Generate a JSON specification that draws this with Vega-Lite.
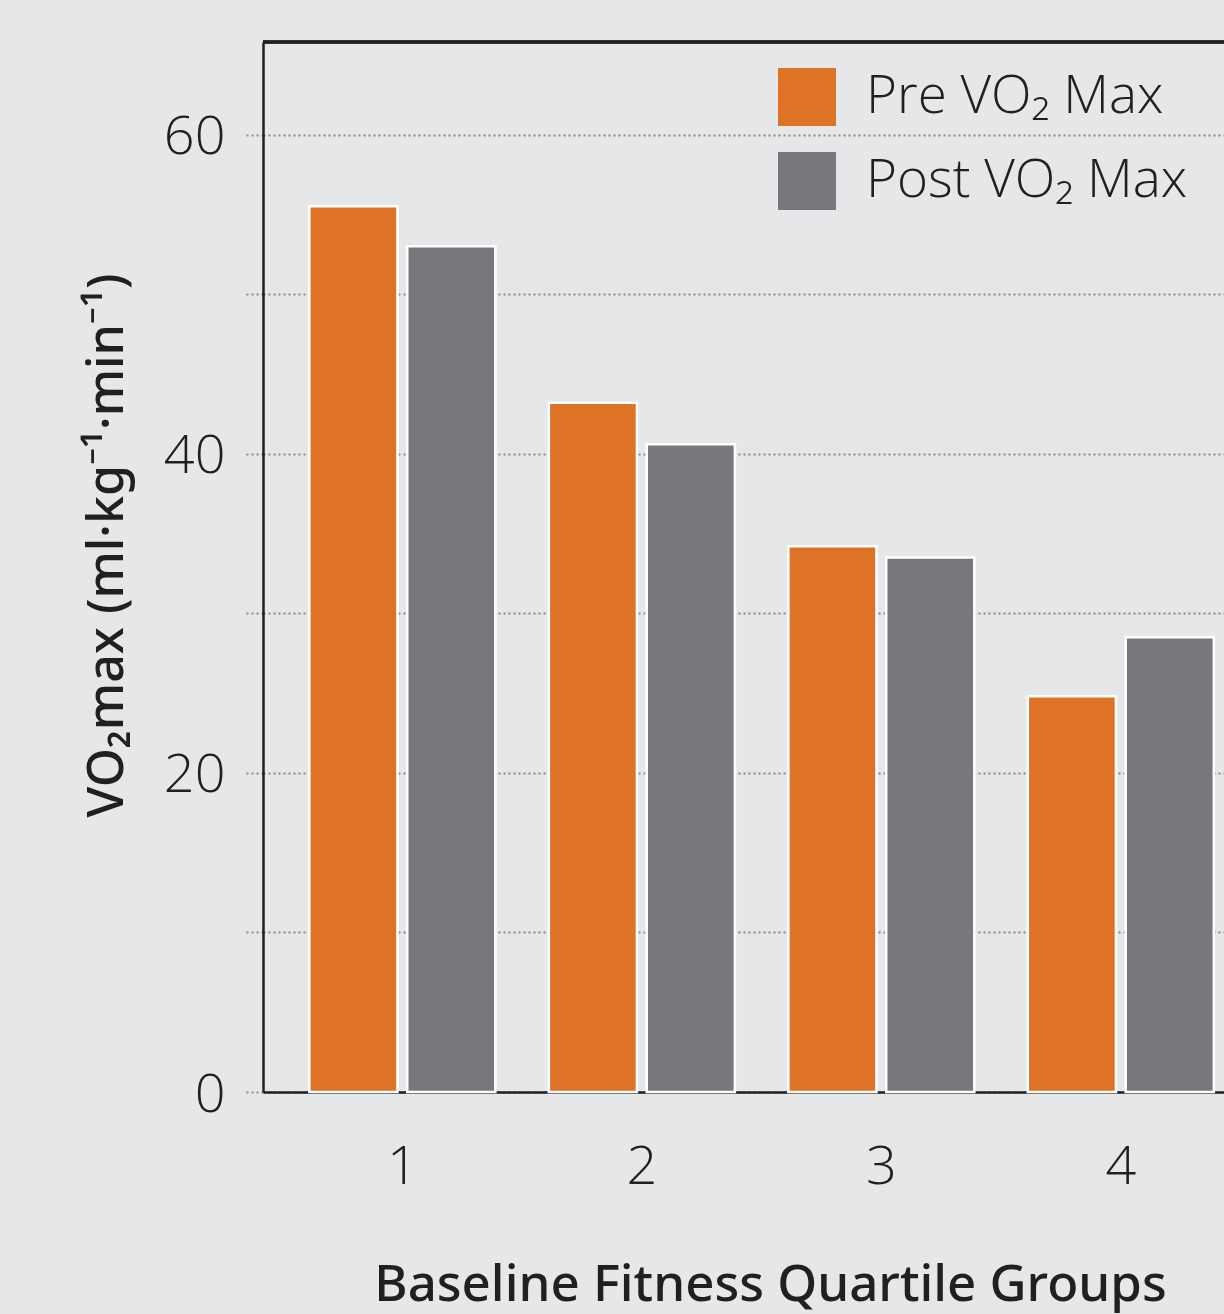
{
  "$schema": "https://vega.github.io/schema/vega-lite/v6.json",
  "width": 961,
  "height": 1050,
  "autosize": "none",
  "padding": {"left": 263, "top": 42, "right": 0, "bottom": 222},
  "background": "#e6e7e9",
  "config": {
    "view": {"stroke": null},
    "font": "Open Sans"
  },
  "data": {
    "values": [
      {"group": "1", "series": "Pre VO₂ Max", "value": 55.5},
      {"group": "1", "series": "Post VO₂ Max", "value": 53.0},
      {"group": "2", "series": "Pre VO₂ Max", "value": 43.2},
      {"group": "2", "series": "Post VO₂ Max", "value": 40.6},
      {"group": "3", "series": "Pre VO₂ Max", "value": 34.2},
      {"group": "3", "series": "Post VO₂ Max", "value": 33.5},
      {"group": "4", "series": "Pre VO₂ Max", "value": 24.8},
      {"group": "4", "series": "Post VO₂ Max", "value": 28.5}
    ]
  },
  "layer": [
    {
      "mark": {"type": "bar", "stroke": "#ffffff", "strokeWidth": 2.5},
      "encoding": {
        "x": {
          "field": "group",
          "type": "nominal",
          "scale": {"paddingInner": 0.2234, "paddingOuter": 0.118, "align": 0.82},
          "axis": {
            "title": "Baseline Fitness Quartile Groups",
            "labelAngle": 0,
            "labelFont": "Open Sans",
            "labelFontWeight": 300,
            "labelFontSize": 54,
            "labelColor": "#231f20",
            "labelBaseline": "alphabetic",
            "labelPadding": 91,
            "ticks": false,
            "tickSize": 0,
            "domainColor": "#231f20",
            "domainWidth": 2.5,
            "titleFont": "Noto Sans",
            "titleFontWeight": 500,
            "titleFontSize": 51,
            "titleColor": "#231f20",
            "titleBaseline": "alphabetic",
            "titleX": 507,
            "titleY": 208
          }
        },
        "xOffset": {
          "field": "series",
          "type": "nominal",
          "sort": ["Pre VO₂ Max", "Post VO₂ Max"],
          "scale": {"paddingInner": 0.1}
        },
        "y": {
          "field": "value",
          "type": "quantitative",
          "scale": {"domain": [0, 65.8], "nice": false},
          "axis": {
            "title": "VO₂max (ml·kg⁻¹·min⁻¹)",
            "values": [0, 10, 20, 30, 40, 50, 60],
            "labelExpr": "datum.value % 20 === 0 ? datum.label : ''",
            "labelFont": "Open Sans",
            "labelFontWeight": 300,
            "labelFontSize": 54,
            "labelColor": "#231f20",
            "labelPadding": 20,
            "labelOffset": 3,
            "tickSize": 18,
            "tickColor": "#8a8b8e",
            "tickWidth": 2,
            "tickDash": [2, 3],
            "grid": true,
            "gridColor": "#85868a",
            "gridWidth": 2,
            "gridDash": [2, 3],
            "domainColor": "#231f20",
            "domainWidth": 2.5,
            "titleFont": "Noto Sans",
            "titleFontWeight": 500,
            "titleFontSize": 50,
            "titleColor": "#231f20",
            "titleAngle": -90,
            "titleBaseline": "alphabetic",
            "titleAlign": "center",
            "titleX": -141,
            "titleY": 503
          }
        },
        "color": {
          "field": "series",
          "type": "nominal",
          "scale": {"domain": ["Pre VO₂ Max", "Post VO₂ Max"], "range": ["#de7226", "#77787b"]},
          "legend": {
            "title": null,
            "orient": "none",
            "legendX": 515,
            "legendY": 26,
            "symbolType": "square",
            "symbolSize": 3364,
            "symbolStrokeWidth": 0,
            "labelFont": "Open Sans",
            "labelFontWeight": 300,
            "labelFontSize": 53,
            "labelColor": "#231f20",
            "labelOffset": 30,
            "rowPadding": 26,
            "labelLimit": 600,
            "encode": {
              "symbols": {
                "update": {
                  "fill": {"signal": "datum.label === 'Pre VO₂ Max' ? '#de7226' : '#4b4c4e'"},
                  "stroke": {"value": "transparent"}
                }
              }
            }
          }
        }
      }
    },
    {
      "mark": {"type": "rule", "color": "#231f20", "strokeWidth": 2.5},
      "encoding": {"y": {"datum": 65.8}}
    }
  ]
}
